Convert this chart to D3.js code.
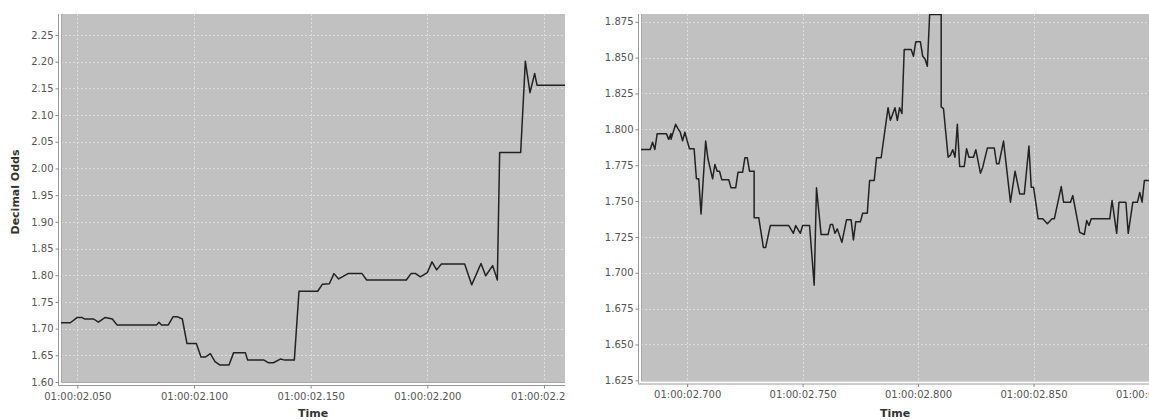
<!DOCTYPE html>
<html>
<head>
<meta charset="utf-8">
<script src="https://cdn.jsdelivr.net/npm/d3@7"></script>
<style>
  body { margin: 0; background: #fff; }
  svg { display: block; }
  text { font-family: "DejaVu Sans", sans-serif; }
</style>
</head>
<body>
<svg id="chart" width="1149" height="420"></svg>
<script>
// ---- data: milliseconds after 01:00:02.000 and decimal odds ----
const leftTimes = [43.4, 47.9, 50.7, 52.1, 53.6, 57.9, 59.7, 62.9, 65.0, 67.9, 84.4, 85.5, 86.8, 89.4,
  91.8, 93.6, 95.5, 97.3, 101.6, 103.0, 105.5, 107.3, 109.4, 111.6, 115.1, 117.3, 122.3, 123.7, 130.2,
  132.3, 134.5, 137.3, 139.5, 143.8, 145.2, 153.8, 155.7, 158.1, 160.0, 162.4, 166.0, 172.4, 174.3,
  191.8, 193.5, 195.8, 197.5, 200.1, 202.2, 204.7, 206.8, 216.8, 219.7, 223.7, 225.9, 228.3, 230.1,
  231.9, 240.1, 242.3, 244.2, 246.2, 247.6, 259.9];
const leftOdds = [1.711, 1.711, 1.721, 1.721, 1.718, 1.718, 1.712, 1.721, 1.718, 1.707, 1.707, 1.712, 1.707, 1.707,
  1.722, 1.722, 1.718, 1.672, 1.672, 1.647, 1.647, 1.653, 1.638, 1.632, 1.632, 1.655, 1.655, 1.641, 1.641,
  1.636, 1.636, 1.643, 1.641, 1.641, 1.770, 1.770, 1.783, 1.784, 1.803, 1.793, 1.803, 1.803, 1.791,
  1.791, 1.803, 1.803, 1.797, 1.805, 1.825, 1.810, 1.821, 1.821, 1.782, 1.822, 1.799, 1.818, 1.791,
  2.030, 2.030, 2.201, 2.142, 2.178, 2.156, 2.156];

const rightTimes = [680.9, 684.5, 685.5, 686.2, 687.2, 691.2, 692.0, 693.0, 693.7, 695.1, 696.3, 697.4, 698.1,
  699.9, 700.9, 701.7, 703.0, 704.5, 705.4, 706.8, 708.2, 709.5, 711.1, 712.5, 713.6, 714.6, 715.7, 718.3,
  719.3, 721.0, 722.2, 724.4, 725.5, 726.2, 727.2, 729.1, 729.8, 731.8, 733.2, 734.8, 736.6, 744.8, 746.4,
  747.8, 749.1, 750.3, 753.1, 755.3, 756.7, 758.5, 761.5, 762.5, 763.9, 764.6, 765.6, 767.5, 769.3, 771.4,
  772.8, 773.6, 775.4, 776.9, 778.3, 779.0, 781.2, 782.3, 784.8, 787.0, 788.7, 790.1, 791.3, 792.4, 793.9,
  794.9, 797.0, 798.0, 799.2, 801.8, 802.8, 803.9, 804.9, 805.7, 810.0, 810.7, 811.7, 813.1, 814.3, 815.0,
  816.0, 816.9, 817.9, 818.9, 820.8, 821.8, 822.9, 824.7, 825.8, 827.2, 828.7, 830.8, 833.3, 834.5, 835.6,
  837.6, 840.2, 842.4, 844.5, 846.3, 848.5, 849.6, 850.3, 852.2, 854.3, 856.7, 858.2, 859.6, 862.1, 863.9,
  866.1, 867.5, 870.4, 872.2, 873.3, 874.4, 875.9, 883.4, 884.5, 886.3, 887.7, 890.3, 891.7, 893.2, 895.2,
  896.0, 897.2, 898.5, 900.2];
const rightOdds = [1.786, 1.786, 1.791, 1.786, 1.797, 1.797, 1.793, 1.797, 1.793, 1.8035, 1.8005, 1.798, 1.792,
  1.798, 1.792, 1.7865, 1.7865, 1.7655, 1.7655, 1.741, 1.7918, 1.7795, 1.7655, 1.7755, 1.7708, 1.7708, 1.7648, 1.7648,
  1.7592, 1.7592, 1.770, 1.770, 1.7802, 1.7802, 1.7708, 1.7708, 1.7383, 1.7383, 1.7177, 1.7177, 1.7329, 1.7329, 1.7275,
  1.7329, 1.7275, 1.7329, 1.7329, 1.6914, 1.7592, 1.7266, 1.7266, 1.7336, 1.7336, 1.7275, 1.7306, 1.7212, 1.7369, 1.7369,
  1.7229, 1.7355, 1.7355, 1.7415, 1.7415, 1.7643, 1.7643, 1.7802, 1.7802, 1.8151, 1.8063, 1.8151, 1.8063, 1.8151, 1.811,
  1.8557, 1.8557, 1.851, 1.861, 1.861, 1.851, 1.849, 1.844, 1.880, 1.880, 1.8156, 1.8145, 1.7806, 1.782, 1.7858,
  1.7806, 1.7806, 1.8035, 1.7741, 1.7741, 1.7865, 1.7806, 1.7806, 1.7858, 1.7694, 1.7736, 1.7869, 1.7869, 1.776, 1.776,
  1.7918, 1.7492, 1.7708, 1.755, 1.755, 1.7883, 1.7597, 1.7597, 1.7376, 1.7376, 1.7342, 1.7376, 1.7376, 1.7601, 1.7492,
  1.7492, 1.7538, 1.7282, 1.7267, 1.7364, 1.733, 1.7376, 1.7376, 1.7504, 1.7275, 1.7492, 1.7492, 1.7275, 1.7492, 1.7492,
  1.756, 1.7492, 1.7643, 1.7643];

const leftYTicks = [1.60, 1.65, 1.70, 1.75, 1.80, 1.85, 1.90, 1.95, 2.00, 2.05, 2.10, 2.15, 2.20, 2.25];
const rightYTicks = [1.625, 1.650, 1.675, 1.700, 1.725, 1.750, 1.775, 1.800, 1.825, 1.850, 1.875];
const leftXTicks = [50, 100, 150, 200, 250];
const rightXTicks = [700, 750, 800, 850, 900];

const yTitle = "Decimal Odds";
const xTitle = "Time";

// ---- drawing ----
const svg = d3.select("#chart");
const toDate = ms => new Date(Date.UTC(1970, 0, 1, 1, 0, 2) + ms);
const timeFmt = d3.utcFormat("%H:%M:%S.%L");

function drawPanel(id, cfg) {
  const { times, odds, xTicks, yTicks, xDomain, yDomain, yFmt, left, right, top, bottom, clipRight } = cfg;
  const x = d3.scaleUtc().domain(xDomain.map(toDate)).range([left, right]);
  const y = d3.scaleLinear().domain(yDomain).range([bottom, top]);

  const defs = svg.append("defs");
  defs.append("clipPath").attr("id", id + "-panel")
    .append("rect").attr("x", cfg.clipLeft).attr("y", 0).attr("width", clipRight - cfg.clipLeft).attr("height", 420);
  defs.append("clipPath").attr("id", id + "-plot")
    .append("rect").attr("x", left).attr("y", top).attr("width", right - left).attr("height", bottom - top);

  const g = svg.append("g").attr("clip-path", `url(#${id}-panel)`);

  // plot background
  g.append("rect").attr("x", left).attr("y", top).attr("width", right - left).attr("height", bottom - top)
    .attr("fill", "#c1c1c1");

  // grid
  const grid = g.append("g").attr("clip-path", `url(#${id}-plot)`)
    .attr("stroke", "#e4e4e4").attr("stroke-width", 0.8).attr("stroke-dasharray", "2,2");
  grid.selectAll(".gy").data(yTicks).join("line")
    .attr("x1", left).attr("x2", right)
    .attr("y1", d => Math.round(y(d)) + 0.5).attr("y2", d => Math.round(y(d)) + 0.5);
  grid.selectAll(".gx").data(xTicks).join("line")
    .attr("y1", top).attr("y2", bottom)
    .attr("x1", d => Math.round(x(toDate(d))) + 0.5).attr("x2", d => Math.round(x(toDate(d))) + 0.5);

  // plot outline (left and bottom)
  g.append("path")
    .attr("d", `M${left + 0.5},${top}V${bottom + 0.5}H${right}`)
    .attr("fill", "none").attr("stroke", "#a8a8a8").attr("stroke-width", 1);

  // series line
  const pts = times.map((t, i) => [toDate(t), odds[i]]);
  g.append("path").datum(pts)
    .attr("clip-path", `url(#${id}-plot)`)
    .attr("fill", "none").attr("stroke", "#222").attr("stroke-width", 1.5)
    .attr("stroke-linejoin", "round")
    .attr("d", d3.line().x(d => x(d[0])).y(d => y(d[1])));

  // y axis
  const yAxisX = left - 3;
  const ya = g.append("g").attr("transform", `translate(${yAxisX + 0.5},0)`)
    .call(d3.axisLeft(y).tickValues(yTicks).tickFormat(yFmt).tickSize(3).tickPadding(2));
  ya.select(".domain").attr("d", `M0,${top}V${bottom + 3}`).attr("stroke", "#9a9a9a");
  ya.selectAll(".tick line").attr("stroke", "#888");
  ya.selectAll(".tick text").attr("fill", "#555").attr("font-size", 10)
    .attr("font-family", "'DejaVu Sans', sans-serif");

  // x axis
  const xAxisY = bottom + 3;
  const xa = g.append("g").attr("transform", `translate(0,${xAxisY + 0.5})`)
    .call(d3.axisBottom(x).tickValues(xTicks.map(toDate)).tickFormat(timeFmt).tickSize(3).tickPadding(4));
  xa.select(".domain").attr("d", `M${left - 3},0H${right}`).attr("stroke", "#9a9a9a");
  xa.selectAll(".tick line").attr("stroke", "#888");
  xa.selectAll(".tick text").attr("fill", "#555").attr("font-size", 10)
    .attr("font-family", "'DejaVu Sans', sans-serif");

  // x title
  g.append("text").attr("x", (left + right) / 2).attr("y", 417)
    .attr("text-anchor", "middle").attr("font-size", 11).attr("font-weight", "bold").attr("fill", "#333")
    .text(xTitle);

  if (cfg.showYTitle) {
    g.append("text").attr("transform", `translate(19,192) rotate(-90)`)
      .attr("text-anchor", "middle").attr("font-size", 11).attr("font-weight", "bold").attr("fill", "#333")
      .text(yTitle);
  }
}

drawPanel("p1", {
  times: leftTimes, odds: leftOdds, xTicks: leftXTicks, yTicks: leftYTicks,
  xDomain: [43.4, 259.9], yDomain: [1.60, 2.2893], yFmt: d3.format(".2f"),
  left: 61, right: 565, top: 14, bottom: 382, clipLeft: 0, clipRight: 565.5, showYTitle: true
});

drawPanel("p2", {
  times: rightTimes, odds: rightOdds, xTicks: rightXTicks, yTicks: rightYTicks,
  xDomain: [680.9, 900.1], yDomain: [1.6249, 1.8804], yFmt: d3.format(".3f"),
  left: 641, right: 1149, top: 14, bottom: 380.5, clipLeft: 580, clipRight: 1149, showYTitle: false
});
</script>
</body>
</html>
